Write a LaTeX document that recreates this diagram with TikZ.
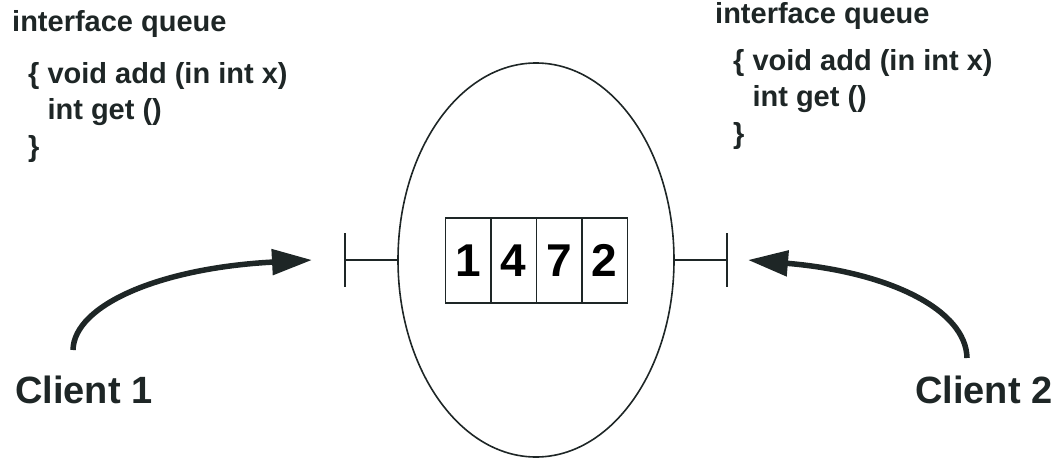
\documentclass[tikz,border=0pt]{standalone}
\usepackage{fontspec}
\setmainfont{Liberation Sans}
\usepackage{xcolor}
\usetikzlibrary{arrows.meta,positioning,shapes.geometric}
\definecolor{ink}{RGB}{30,38,38}

\begin{document}
\begin{tikzpicture}[
  x=1pt, y=-1pt,
  label/.style={inner sep=0pt, font=\fontsize{29}{36.5}\selectfont\bfseries, text=ink},
  code/.style={label, align=left, anchor=north west},
  cell/.style={draw=ink, line width=1.5pt, minimum width=45.5pt, minimum height=85pt,
               inner sep=0pt, outer sep=0pt, font=\fontsize{46}{46}\selectfont\bfseries},
  client/.style={inner sep=0pt, anchor=base west, font=\fontsize{38}{38}\selectfont\bfseries, text=ink},
  callarrow/.style={-{Triangle[length=40pt,width=25pt]}, line width=5.5pt, draw=ink},
]
\useasboundingbox (0,0) rectangle (1059,460);

% the queue object and its contents
\node[draw=ink, ellipse, line width=1.6pt, minimum width=276pt, minimum height=394pt,
      inner sep=0pt] (server) at (536,260) {};
\node[cell] (c1) at (468,260.5) {1};
\node[cell, right=0pt of c1] (c2) {4};
\node[cell, right=0pt of c2] (c3) {7};
\node[cell, right=0pt of c3] (c4) {2};

% interfaces on both sides
\coordinate (lport) at (345,260);
\coordinate (rport) at (727,260);
\draw[ink, line width=1.5pt] (server.west) -- (lport);
\draw[ink, line width=1.5pt] (server.east) -- (rport);
\draw[ink, line width=1.5pt] ([yshift=27pt]lport) -- ([yshift=-27pt]lport);
\draw[ink, line width=1.5pt] ([yshift=27pt]rport) -- ([yshift=-27pt]rport);

% interface descriptions
\node[label, anchor=base west] (ifleft) at (12,32) {interface queue};
\node[code] (codeleft) at (28,62) {\{ void add (in int x)\\\phantom{\{ }int get ()\\\}};
\node[label, anchor=base west] (ifright) at (715,24) {interface queue};
\node[code] (coderight) at (733,49) {\{ void add (in int x)\\\phantom{\{ }int get ()\\\}};

% clients
\node[client] (client1) at (15,403) {Client 1};
\node[client] (client2) at (915,403) {Client 2};
\coordinate (from1) at (73,350);
\coordinate (from2) at (967,358);
\draw[callarrow] (from1) .. controls (74,305) and (160,268) .. ([xshift=-33pt]lport);
\draw[callarrow] (from2) .. controls (966,310) and (890,272) .. ([xshift=21pt]rport);
\end{tikzpicture}
\end{document}
